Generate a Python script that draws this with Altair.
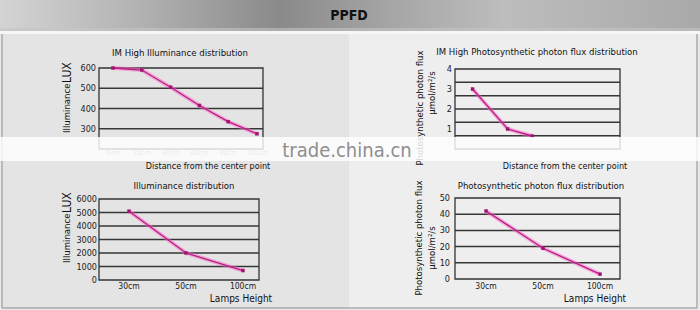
import altair as alt
import pandas as pd

FONT = "DejaVu Sans Condensed, Liberation Sans Narrow, sans-serif"

# ---------------- data ----------------
tl_pos = ["0cm", "20cm", "40cm", "60cm", "80cm", "100cm"]
tl_lux = [600, 590, 505, 415, 335, 275]
tl_ticks = [300, 400, 500, 600]
tl_grid = [300, 400, 500]

tr_pos = [0, 10, 17]
tr_ppf = [3.0, 1.0, 0.65]
tr_ticks = [1, 2, 3, 4]
tr_grid = [2 / 3, 4 / 3, 2, 8 / 3, 10 / 3]

heights = ["30cm", "50cm", "100cm"]
bl_lux = [5100, 2000, 700]
bl_ticks = [0, 1000, 2000, 3000, 4000, 5000, 6000]
bl_grid = [1000, 2000, 3000, 4000, 5000]

br_ppf = [42, 19, 3]
br_ticks = [0, 10, 20, 30, 40, 50]
br_grid = [10, 20, 30, 40]

header = "PPFD"
titles = ["IM High Illuminance distribution",
          "IM High Photosynthetic photon flux distribution",
          "Illuminance distribution",
          "Photosynthetic photon flux distribution"]
dist_title = "Distance from the center point"
lamp_title = "Lamps Height"
ppf_title1 = "Photosynthetic photon flux"
ppf_title2 = "μmol/m²/s"
watermark = "trade.china.cn"

# ---------------- layout (pixels) ----------------
P = {
    "tl": dict(x=[99, 263], y=[149, 68], dom=[200, 600], xr=[113, 257]),
    "tr": dict(x=[455, 620], y=[149, 69], dom=[0, 4], xdom=[-5, 42]),
    "bl": dict(x=[99, 259], y=[280, 199], dom=[0, 6000], xr=[129, 243]),
    "br": dict(x=[455, 620], y=[279, 198], dom=[0, 50], xr=[486, 600]),
}

one = alt.Data(values=[{"a": 1}])


def txt(s, x, y, size=12, align="center", angle=0, color="#111", baseline="middle", font=FONT, weight="normal"):
    return alt.Chart(alt.Data(values=[{"t": s}])).mark_text(
        font=font, fontSize=size, align=align, angle=angle, color=color,
        baseline=baseline, fontWeight=weight
    ).encode(x=alt.value(x), y=alt.value(y), text="t:N")


def box(x1, x2, y1, y2, **kw):
    return alt.Chart(one).mark_rect(**kw).encode(
        x=alt.value(x1), x2=alt.value(x2), y=alt.value(y1), y2=alt.value(y2))


def yscale(k):
    return alt.Scale(domain=P[k]["dom"], range=P[k]["y"], nice=False, zero=False)


def grid(k, vals):
    df = pd.DataFrame({"v": vals})
    return alt.Chart(df).mark_rule(color="#363636", strokeWidth=1.5).encode(
        y=alt.Y("v:Q", scale=yscale(k), axis=None),
        x=alt.value(P[k]["x"][0]), x2=alt.value(P[k]["x"][1]))


def frame(k):
    return box(P[k]["x"][0], P[k]["x"][1], P[k]["y"][1], P[k]["y"][0],
               fill=None, stroke="#333333", strokeWidth=1.3, fillOpacity=0)


def yticks(k, vals, xpos):
    df = pd.DataFrame({"v": vals})
    return alt.Chart(df).mark_text(font=FONT, fontSize=9, align="right", baseline="middle",
                                   color="#222").encode(
        y=alt.Y("v:Q", scale=yscale(k), axis=None), x=alt.value(xpos), text="v:Q")


def series(df, xenc, yenc):
    glow = alt.Chart(df).mark_line(color="#ff63c8", strokeWidth=4, opacity=0.5).encode(x=xenc, y=yenc)
    core = alt.Chart(df).mark_line(color="#b51f80", strokeWidth=1.3).encode(x=xenc, y=yenc)
    pts = alt.Chart(df).mark_square(color="#9e1470", size=12, opacity=1).encode(x=xenc, y=yenc)
    return [glow, core, pts]


layers = []

# backgrounds
layers.append(box(0, 700, 0, 310, color="#e9e9e9"))
layers.append(box(2, 349, 33, 308, color="#e4e4e4"))
layers.append(box(349, 697, 33, 308, color="#eeeeee"))
layers.append(box(2, 697, 33, 308, fill=None, fillOpacity=0, stroke="#8c8c8c", strokeWidth=1))
layers.append(box(0, 700, 31, 34, color="#f6f6f6"))

# header
grad = alt.Gradient(
    gradient="linear", x1=0, x2=1, y1=0, y2=0,
    stops=[alt.GradientStop(color="#d4d4d4", offset=0),
           alt.GradientStop(color="#b2b2b2", offset=0.2),
           alt.GradientStop(color="#8a8a8a", offset=0.4),
           alt.GradientStop(color="#a4a4a4", offset=0.55),
           alt.GradientStop(color="#bdbdbd", offset=0.72),
           alt.GradientStop(color="#a9a9a9", offset=1)])
layers.append(box(0, 700, 0, 31, color=grad))
layers.append(box(0, 700, 28, 31, color="#c4c4c4", opacity=0.6))
layers.append(txt(header, 349, 16, size=14, weight="bold", color="#111"))

# ---- top-left ----
tl_df = pd.DataFrame({"pos": tl_pos, "lux": tl_lux})
tl_x = alt.X("pos:N", scale=alt.Scale(type="point", domain=tl_pos, range=P["tl"]["xr"], padding=0), axis=None)
tl_y = alt.Y("lux:Q", scale=yscale("tl"), axis=None)
layers += [grid("tl", tl_grid), frame("tl")]
layers += series(tl_df, tl_x, tl_y)
layers.append(yticks("tl", tl_ticks, 96))
layers.append(alt.Chart(tl_df).mark_text(font=FONT, fontSize=7, color="#888").encode(
    x=tl_x, y=alt.value(153), text="pos:N"))
layers.append(txt(titles[0], 180, 53, size=9.5))
layers.append(txt("Illuminance", 67, 133, size=9.5, angle=270, align="left"))
layers.append(txt("LUX", 67, 83, size=12, angle=270, align="left"))
layers.append(txt(dist_title, 208, 166, size=9))

# ---- top-right ----
tr_df = pd.DataFrame({"pos": tr_pos, "ppf": tr_ppf})
tr_x = alt.X("pos:Q", scale=alt.Scale(domain=P["tr"]["xdom"], range=P["tr"]["x"], nice=False, zero=False), axis=None)
tr_y = alt.Y("ppf:Q", scale=yscale("tr"), axis=None)
layers += [grid("tr", tr_grid), frame("tr")]
layers += series(tr_df, tr_x, tr_y)
layers.append(yticks("tr", tr_ticks, 452))
layers.append(txt(titles[1], 537, 52, size=9.5))
layers.append(txt(ppf_title1, 420, 108, size=9.5, angle=270))
layers.append(txt(ppf_title2, 432, 93, size=9.5, angle=270))
layers.append(txt(dist_title, 565, 166, size=9))

# ---- bottom-left ----
bl_df = pd.DataFrame({"h": heights, "lux": bl_lux})
bl_x = alt.X("h:N", scale=alt.Scale(type="point", domain=heights, range=P["bl"]["xr"], padding=0), axis=None)
bl_y = alt.Y("lux:Q", scale=yscale("bl"), axis=None)
layers += [grid("bl", bl_grid), frame("bl")]
layers += series(bl_df, bl_x, bl_y)
layers.append(yticks("bl", bl_ticks, 97))
layers.append(alt.Chart(bl_df).mark_text(font=FONT, fontSize=8.5, color="#222").encode(
    x=bl_x, y=alt.value(286), text="h:N"))
layers.append(txt(titles[2], 184, 186, size=9.5))
layers.append(txt("Illuminance", 67, 263, size=9.5, angle=270, align="left"))
layers.append(txt("LUX", 67, 213, size=12, angle=270, align="left"))
layers.append(txt(lamp_title, 241, 299, size=10))

# ---- bottom-right ----
br_df = pd.DataFrame({"h": heights, "ppf": br_ppf})
br_x = alt.X("h:N", scale=alt.Scale(type="point", domain=heights, range=P["br"]["xr"], padding=0), axis=None)
br_y = alt.Y("ppf:Q", scale=yscale("br"), axis=None)
layers += [grid("br", br_grid), frame("br")]
layers += series(br_df, br_x, br_y)
layers.append(yticks("br", br_ticks, 450))
layers.append(alt.Chart(br_df).mark_text(font=FONT, fontSize=8.5, color="#222").encode(
    x=br_x, y=alt.value(286), text="h:N"))
layers.append(txt(titles[3], 541, 186, size=9.5))
layers.append(txt(ppf_title1, 419, 238, size=9.5, angle=270))
layers.append(txt(ppf_title2, 432, 248, size=9.5, angle=270))
layers.append(txt(lamp_title, 595, 299, size=10))

# watermark band
layers.append(box(0, 700, 137, 161, color="#ffffff", opacity=0.82))
layers.append(txt(watermark, 347, 157, size=20, color="#8e8e8e", baseline="alphabetic"))

chart = alt.layer(*layers).resolve_scale(x="independent", y="independent").properties(
    width=700, height=310, autosize=alt.AutoSizeParams(type="none"), padding=0
).configure_view(stroke=None)

chart.save("out.html", embed_options={"renderer": "svg", "actions": False})
